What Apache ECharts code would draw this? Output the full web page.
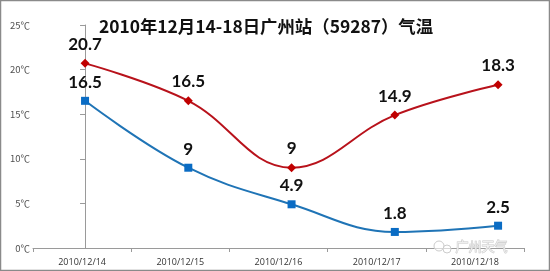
<!DOCTYPE html>
<html>
<head>
<meta charset="utf-8">
<style>html,body{margin:0;padding:0;background:#fff;}#c{width:550px;height:271px;}</style>
<script src="https://cdn.jsdelivr.net/npm/echarts@6/dist/echarts.min.js"></script>
</head>
<body>
<div id="c"></div>
<script>
var categories = ['2010/12/14', '2010/12/15', '2010/12/16', '2010/12/17', '2010/12/18'];
var maxTemp = [20.7, 16.5, 9, 14.9, 18.3];
var minTemp = [16.5, 9, 4.9, 1.8, 2.5];
var yTicks = [0, 5, 10, 15, 20, 25];
var titleText = '2010年12月14-18日广州站（59287）气温';
var watermark = '广州天气';

function pairs(arr) { return arr.map(function (v, i) { return [i, v]; }); }

var chart = echarts.init(document.getElementById('c'), null, { renderer: 'canvas' });
var labelStyle = {
  show: true, position: 'top', distance: 6,
  fontFamily: 'Lato', fontWeight: 'bold', fontSize: 17, color: '#111'
};
chart.setOption({
  animation: false,
  backgroundColor: '#fff',
  title: {
    text: titleText, left: 261, top: 13, textAlign: 'center',
    textStyle: { fontFamily: 'Noto Sans CJK SC', fontWeight: 'bold', fontSize: 17.4, color: '#111' }
  },
  grid: { left: 33, right: 26, top: 25, bottom: 23 },
  xAxis: [{
    type: 'category', data: categories, boundaryGap: true,
    axisLine: { lineStyle: { color: '#9a9a9a', width: 1 } },
    axisTick: { show: true, length: 4, lineStyle: { color: '#9a9a9a' } },
    axisLabel: { margin: 10, fontFamily: 'Open Sans', fontSize: 9, color: '#333' }
  }, {
    type: 'value', show: false, min: -0.504, max: 4.251
  }],
  yAxis: {
    type: 'value', min: yTicks[0], max: yTicks[yTicks.length - 1], interval: 5,
    splitLine: { show: false },
    axisLine: { show: true, lineStyle: { color: '#9a9a9a', width: 1 } },
    axisTick: { show: true, length: 5, lineStyle: { color: '#9a9a9a' } },
    axisLabel: { margin: 3, fontFamily: 'Noto Sans CJK SC', fontSize: 9.5, color: '#505050', formatter: '{value}℃' }
  },
  series: [{
    type: 'line', xAxisIndex: 1, data: pairs(maxTemp), smooth: 0.4,
    symbol: 'diamond', symbolSize: 9,
    lineStyle: { color: '#b8121b', width: 2 },
    itemStyle: { color: '#c00000' },
    label: labelStyle
  }, {
    type: 'line', xAxisIndex: 1, data: pairs(minTemp), smooth: 0.4,
    symbol: 'rect', symbolSize: 8,
    lineStyle: { color: '#1f74b6', width: 2 },
    itemStyle: { color: '#0a6cc4' },
    label: labelStyle
  }],
  graphic: [{
    type: 'rect', shape: { x: 0.5, y: 0.5, width: 549, height: 270 },
    style: { fill: 'none', stroke: '#8a8a8a', lineWidth: 1.5 }, z: 100
  }, {
    type: 'circle', shape: { cx: 439, cy: 246, r: 5 },
    style: { fill: 'rgba(255,255,255,0.6)', stroke: '#cccccc', lineWidth: 1 }, z: 90
  }, {
    type: 'circle', shape: { cx: 447, cy: 249, r: 4 },
    style: { fill: 'rgba(255,255,255,0.6)', stroke: '#cccccc', lineWidth: 1 }, z: 90
  }, {
    type: 'text', left: 455, top: 239, z: 90,
    style: { text: watermark, font: '13px "Noto Sans CJK SC"', fill: 'rgba(255,255,255,0.7)', stroke: '#c8c8c8', lineWidth: 1 }
  }]
});
</script>
</body>
</html>
